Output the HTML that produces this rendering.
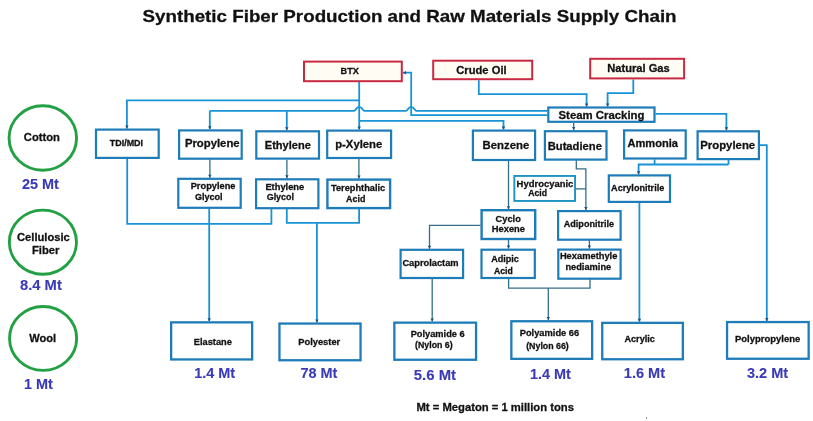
<!DOCTYPE html><html><head><meta charset="utf-8"><title>Synthetic Fiber Production and Raw Materials Supply Chain</title><style>html,body{margin:0;padding:0;background:#fff;}svg{display:block;}text{font-family:"Liberation Sans",Arial,sans-serif;font-weight:bold;}svg{will-change:transform;}</style></head><body>
<svg width="813" height="421" viewBox="0 0 813 421">
<rect width="813" height="421" fill="#fff"/>
<path d="M359.2,82 L359.2,129.5" fill="none" stroke="#1894d6" stroke-width="1.8"/>
<path d="M359.2,100.4 L126.9,100.4 L126.9,128.5" fill="none" stroke="#1894d6" stroke-width="1.8"/>
<path d="M403,72.7 L411.2,72.7 L411.2,115.2 L547.2,115.2" fill="none" stroke="#1894d6" stroke-width="1.8"/>
<path d="M359.2,120.8 L503.5,120.8 L503.5,129.5" fill="none" stroke="#1894d6" stroke-width="1.8"/>
<path d="M478.8,80.2 L478.8,94.2 L586.6,94.2 L586.6,106.4" fill="none" stroke="#1894d6" stroke-width="1.8"/>
<path d="M633.3,79.4 L633.3,93.2 L607.6,93.2 L607.6,106.4" fill="none" stroke="#1894d6" stroke-width="1.8"/>
<path d="M655.6,113.9 L726.4,113.9 L726.4,130.2" fill="none" stroke="#1894d6" stroke-width="1.8"/>
<path d="M759.9,145.2 L766.8,145.2 L766.8,320.9" fill="none" stroke="#1894d6" stroke-width="1.8"/>
<path d="M654.6,159.4 L654.6,164.5" fill="none" stroke="#1894d6" stroke-width="1.8"/>
<path d="M728.5,160 L728.5,164.5" fill="none" stroke="#1894d6" stroke-width="1.8"/>
<path d="M728.5,164.5 L638.6,164.5 L638.6,174.3" fill="none" stroke="#1894d6" stroke-width="1.8"/>
<path d="M639.4,203 L639.4,321.7" fill="none" stroke="#1894d6" stroke-width="1.8"/>
<path d="M127.2,158.5 L127.2,223.9 L271.4,223.9 L271.4,208.8" fill="none" stroke="#1894d6" stroke-width="1.8"/>
<path d="M209.2,208.4 L209.2,321.3" fill="none" stroke="#1894d6" stroke-width="1.8"/>
<path d="M286.8,208.8 L286.8,222.8 L359.1,222.8 L359.1,208.8" fill="none" stroke="#1894d6" stroke-width="1.8"/>
<path d="M316.9,222.8 L316.9,322.4" fill="none" stroke="#1894d6" stroke-width="1.8"/>
<path d="M209.9,159.2 L209.9,177.7" fill="none" stroke="#336f88" stroke-width="1.3"/>
<path d="M286.9,159.7 L286.9,178.2" fill="none" stroke="#336f88" stroke-width="1.3"/>
<path d="M358.9,158.9 L358.9,178.4" fill="none" stroke="#336f88" stroke-width="1.3"/>
<path d="M508.5,160.6 L508.5,209.3" fill="none" stroke="#336f88" stroke-width="1.3"/>
<path d="M573.7,122.9 L573.7,130.1" fill="none" stroke="#336f88" stroke-width="1.3"/>
<path d="M576.3,160.3 L576.3,168.8 L585.9,168.8 L585.9,210" fill="none" stroke="#336f88" stroke-width="1.3"/>
<path d="M576,188.9 L585.9,188.9" fill="none" stroke="#336f88" stroke-width="1.3"/>
<path d="M480.5,225.3 L429.5,225.3 L429.5,248.7" fill="none" stroke="#336f88" stroke-width="1.3"/>
<path d="M508.5,240 L508.5,248.6" fill="none" stroke="#336f88" stroke-width="1.3"/>
<path d="M589.4,240 L589.4,248.6" fill="none" stroke="#336f88" stroke-width="1.3"/>
<path d="M508.6,279.1 L508.6,288.1 L590,288.1 L590,279.1" fill="none" stroke="#336f88" stroke-width="1.3"/>
<path d="M548.3,288.1 L548.3,320.1" fill="none" stroke="#336f88" stroke-width="1.3"/>
<path d="M432.2,279.1 L432.2,321.5" fill="none" stroke="#336f88" stroke-width="1.3"/>
<path d="M209.8,110.8 L209.8,129.3" fill="none" stroke="#1894d6" stroke-width="1.8"/>
<path d="M286.8,110.8 L286.8,130.2" fill="none" stroke="#1894d6" stroke-width="1.8"/>
<path d="M209.8,110.8 L354.0,110.8 C356.0,110.8 355.8,106.89999999999999 359.2,106.89999999999999 C362.59999999999997,106.89999999999999 362.4,110.8 364.4,110.8 L406.0,110.8 C408.0,110.8 407.8,106.89999999999999 411.2,106.89999999999999 C414.59999999999997,106.89999999999999 414.4,110.8 416.4,110.8 L547.2,110.8" fill="none" stroke="#1894d6" stroke-width="1.8"/>
<rect x="304.00" y="61.60" width="97.80" height="19.60" fill="#fffcf4" stroke="#c82a42" stroke-width="2"/>
<rect x="433.20" y="60.70" width="99.00" height="18.50" fill="#fffcf4" stroke="#c82a42" stroke-width="2"/>
<rect x="590.20" y="58.80" width="93.90" height="19.60" fill="#fffcf4" stroke="#c82a42" stroke-width="2"/>
<rect x="548.30" y="107.50" width="106.20" height="14.30" fill="#fff" stroke="#1e7cb8" stroke-width="2.2"/>
<rect x="96.00" y="129.60" width="62.70" height="28.30" fill="#fff" stroke="#1e7cb8" stroke-width="2.2"/>
<rect x="179.10" y="130.40" width="62.60" height="28.30" fill="#fff" stroke="#1e7cb8" stroke-width="2.2"/>
<rect x="256.30" y="131.30" width="62.70" height="27.30" fill="#fff" stroke="#1e7cb8" stroke-width="2.2"/>
<rect x="327.20" y="130.60" width="63.90" height="27.40" fill="#fff" stroke="#1e7cb8" stroke-width="2.2"/>
<rect x="472.90" y="130.60" width="62.20" height="29.40" fill="#fff" stroke="#1e7cb8" stroke-width="2.2"/>
<rect x="544.90" y="131.20" width="61.60" height="28.40" fill="#fff" stroke="#1e7cb8" stroke-width="2.2"/>
<rect x="624.10" y="130.40" width="61.60" height="28.10" fill="#fff" stroke="#1e7cb8" stroke-width="2.2"/>
<rect x="697.60" y="131.30" width="61.30" height="27.80" fill="#fff" stroke="#1e7cb8" stroke-width="2.2"/>
<rect x="178.30" y="178.80" width="62.40" height="29.00" fill="#fff" stroke="#1e7cb8" stroke-width="2.2"/>
<rect x="256.10" y="179.30" width="62.30" height="28.90" fill="#fff" stroke="#1e7cb8" stroke-width="2.2"/>
<rect x="327.40" y="179.60" width="62.70" height="28.50" fill="#fff" stroke="#1e7cb8" stroke-width="2.4"/>
<rect x="514.35" y="175.95" width="60.70" height="25.00" fill="#fff" stroke="#1f94c2" stroke-width="1.9"/>
<rect x="608.80" y="175.40" width="61.20" height="26.50" fill="#fff" stroke="#1e7cb8" stroke-width="2.2"/>
<rect x="481.60" y="210.20" width="53.60" height="28.80" fill="#fff" stroke="#1e7cb8" stroke-width="2.4"/>
<rect x="558.10" y="211.10" width="62.50" height="28.60" fill="#fff" stroke="#1e7cb8" stroke-width="2.2"/>
<rect x="400.60" y="249.80" width="62.50" height="28.20" fill="#fff" stroke="#1e7cb8" stroke-width="2.2"/>
<rect x="481.50" y="249.70" width="53.30" height="28.30" fill="#fff" stroke="#1e7cb8" stroke-width="2.2"/>
<rect x="558.30" y="249.60" width="62.30" height="29.10" fill="#fff" stroke="#1e7cb8" stroke-width="2.2"/>
<rect x="171.15" y="322.35" width="81.00" height="37.10" fill="#fff" stroke="#1e7cb8" stroke-width="2.3"/>
<rect x="279.45" y="323.55" width="81.10" height="36.70" fill="#fff" stroke="#1e7cb8" stroke-width="2.3"/>
<rect x="394.35" y="322.65" width="81.70" height="37.10" fill="#fff" stroke="#1e7cb8" stroke-width="2.3"/>
<rect x="511.35" y="321.25" width="80.80" height="37.60" fill="#fff" stroke="#1e7cb8" stroke-width="2.3"/>
<rect x="602.25" y="322.85" width="80.60" height="36.40" fill="#fff" stroke="#1e7cb8" stroke-width="2.3"/>
<rect x="727.05" y="322.05" width="81.60" height="36.70" fill="#fff" stroke="#1e7cb8" stroke-width="2.3"/>
<path d="M125.2,125.5 L128.6,125.5 L126.9,128.5 Z" fill="#1d5282"/>
<path d="M208.10000000000002,126.30000000000001 L211.5,126.30000000000001 L209.8,129.3 Z" fill="#1d5282"/>
<path d="M285.1,127.19999999999999 L288.5,127.19999999999999 L286.8,130.2 Z" fill="#1d5282"/>
<path d="M357.5,126.5 L360.9,126.5 L359.2,129.5 Z" fill="#1d5282"/>
<path d="M501.8,126.5 L505.2,126.5 L503.5,129.5 Z" fill="#1d5282"/>
<path d="M584.9,103.4 L588.3000000000001,103.4 L586.6,106.4 Z" fill="#1d5282"/>
<path d="M605.9,103.4 L609.3000000000001,103.4 L607.6,106.4 Z" fill="#1d5282"/>
<path d="M724.6999999999999,127.19999999999999 L728.1,127.19999999999999 L726.4,130.2 Z" fill="#1d5282"/>
<path d="M572.0,127.1 L575.4000000000001,127.1 L573.7,130.1 Z" fill="#1d5282"/>
<path d="M406.0,71.0 L406.0,74.4 L403,72.7 Z" fill="#1d5282"/>
<path d="M208.20000000000002,174.7 L211.6,174.7 L209.9,177.7 Z" fill="#1d5282"/>
<path d="M285.2,175.2 L288.59999999999997,175.2 L286.9,178.2 Z" fill="#1d5282"/>
<path d="M357.2,175.4 L360.59999999999997,175.4 L358.9,178.4 Z" fill="#1d5282"/>
<path d="M636.9,171.3 L640.3000000000001,171.3 L638.6,174.3 Z" fill="#1d5282"/>
<path d="M506.8,206.3 L510.2,206.3 L508.5,209.3 Z" fill="#1d5282"/>
<path d="M584.1999999999999,207.0 L587.6,207.0 L585.9,210 Z" fill="#1d5282"/>
<path d="M427.8,245.7 L431.2,245.7 L429.5,248.7 Z" fill="#1d5282"/>
<path d="M506.8,245.6 L510.2,245.6 L508.5,248.6 Z" fill="#1d5282"/>
<path d="M587.6999999999999,245.6 L591.1,245.6 L589.4,248.6 Z" fill="#1d5282"/>
<path d="M207.5,318.3 L210.89999999999998,318.3 L209.2,321.3 Z" fill="#1d5282"/>
<path d="M315.2,319.4 L318.59999999999997,319.4 L316.9,322.4 Z" fill="#1d5282"/>
<path d="M430.5,318.5 L433.9,318.5 L432.2,321.5 Z" fill="#1d5282"/>
<path d="M546.5999999999999,317.1 L550.0,317.1 L548.3,320.1 Z" fill="#1d5282"/>
<path d="M637.6999999999999,318.7 L641.1,318.7 L639.4,321.7 Z" fill="#1d5282"/>
<path d="M765.0999999999999,317.9 L768.5,317.9 L766.8,320.9 Z" fill="#1d5282"/>
<ellipse cx="42.8" cy="138.0" rx="33.75" ry="32.25" fill="#fff" stroke="#22a044" stroke-width="2.9"/>
<ellipse cx="42.9" cy="242.2" rx="33.55" ry="32.05" fill="#fff" stroke="#22a044" stroke-width="2.9"/>
<ellipse cx="43.1" cy="338.4" rx="33.55" ry="31.95" fill="#fff" stroke="#22a044" stroke-width="2.9"/>
<text x="142.50" y="22.40" font-size="17.00" fill="#111" stroke="#111" stroke-width="0.28" textLength="534.10" lengthAdjust="spacingAndGlyphs">Synthetic Fiber Production and Raw Materials Supply Chain</text>
<text x="340.60" y="73.50" font-size="8.70" fill="#111" stroke="#111" stroke-width="0.28" textLength="18.30" lengthAdjust="spacingAndGlyphs">BTX</text>
<text x="456.30" y="73.80" font-size="10.76" fill="#111" stroke="#111" stroke-width="0.28" textLength="50.31" lengthAdjust="spacingAndGlyphs">Crude Oil</text>
<text x="607.30" y="71.80" font-size="10.73" fill="#111" stroke="#111" stroke-width="0.28" textLength="62.40" lengthAdjust="spacingAndGlyphs">Natural Gas</text>
<text x="558.50" y="118.50" font-size="10.58" fill="#111" stroke="#111" stroke-width="0.28" textLength="86.00" lengthAdjust="spacingAndGlyphs">Steam Cracking</text>
<text x="109.70" y="145.70" font-size="8.75" fill="#111" stroke="#111" stroke-width="0.28" textLength="33.40" lengthAdjust="spacingAndGlyphs">TDI/MDI</text>
<text x="184.90" y="147.20" font-size="10.54" fill="#111" stroke="#111" stroke-width="0.28" textLength="54.70" lengthAdjust="spacingAndGlyphs">Propylene</text>
<text x="264.80" y="149.00" font-size="10.84" fill="#111" stroke="#111" stroke-width="0.28" textLength="46.10" lengthAdjust="spacingAndGlyphs">Ethylene</text>
<text x="335.20" y="148.10" font-size="10.54" fill="#111" stroke="#111" stroke-width="0.28" textLength="47.10" lengthAdjust="spacingAndGlyphs">p-Xylene</text>
<text x="482.50" y="149.00" font-size="11.20" fill="#111" stroke="#111" stroke-width="0.28" textLength="46.70" lengthAdjust="spacingAndGlyphs">Benzene</text>
<text x="547.70" y="149.50" font-size="11.12" fill="#111" stroke="#111" stroke-width="0.28" textLength="54.20" lengthAdjust="spacingAndGlyphs">Butadiene</text>
<text x="627.50" y="146.80" font-size="10.57" fill="#111" stroke="#111" stroke-width="0.28" textLength="50.52" lengthAdjust="spacingAndGlyphs">Ammonia</text>
<text x="700.20" y="148.60" font-size="10.93" fill="#111" stroke="#111" stroke-width="0.28" textLength="55.00" lengthAdjust="spacingAndGlyphs">Propylene</text>
<text x="190.70" y="189.40" font-size="9.03" fill="#111" stroke="#111" stroke-width="0.28" textLength="44.80" lengthAdjust="spacingAndGlyphs">Propylene</text>
<text x="194.90" y="200.30" font-size="9.00" fill="#111" stroke="#111" stroke-width="0.28" textLength="27.70" lengthAdjust="spacingAndGlyphs">Glycol</text>
<text x="265.40" y="189.80" font-size="8.91" fill="#111" stroke="#111" stroke-width="0.28" textLength="38.80" lengthAdjust="spacingAndGlyphs">Ethylene</text>
<text x="266.70" y="200.30" font-size="8.93" fill="#111" stroke="#111" stroke-width="0.28" textLength="27.30" lengthAdjust="spacingAndGlyphs">Glycol</text>
<text x="331.00" y="190.70" font-size="9.08" fill="#111" stroke="#111" stroke-width="0.28" textLength="54.20" lengthAdjust="spacingAndGlyphs">Terephthalic</text>
<text x="346.10" y="201.80" font-size="8.76" fill="#111" stroke="#111" stroke-width="0.28" textLength="19.20" lengthAdjust="spacingAndGlyphs">Acid</text>
<text x="516.60" y="186.80" font-size="9.27" fill="#111" stroke="#111" stroke-width="0.28" textLength="56.80" lengthAdjust="spacingAndGlyphs">Hydrocyanic</text>
<text x="528.20" y="195.80" font-size="8.88" fill="#111" stroke="#111" stroke-width="0.28" textLength="18.80" lengthAdjust="spacingAndGlyphs">Acid</text>
<text x="611.10" y="190.60" font-size="9.17" fill="#111" stroke="#111" stroke-width="0.28" textLength="53.20" lengthAdjust="spacingAndGlyphs">Acrylonitrile</text>
<text x="495.60" y="222.20" font-size="9.45" fill="#111" stroke="#111" stroke-width="0.28" textLength="25.20" lengthAdjust="spacingAndGlyphs">Cyclo</text>
<text x="491.80" y="232.10" font-size="9.34" fill="#111" stroke="#111" stroke-width="0.28" textLength="33.20" lengthAdjust="spacingAndGlyphs">Hexene</text>
<text x="563.70" y="226.90" font-size="9.15" fill="#111" stroke="#111" stroke-width="0.28" textLength="50.50" lengthAdjust="spacingAndGlyphs">Adiponitrile</text>
<text x="402.40" y="265.90" font-size="8.97" fill="#111" stroke="#111" stroke-width="0.28" textLength="56.20" lengthAdjust="spacingAndGlyphs">Caprolactam</text>
<text x="491.20" y="262.10" font-size="8.93" fill="#111" stroke="#111" stroke-width="0.28" textLength="27.70" lengthAdjust="spacingAndGlyphs">Adipic</text>
<text x="494.00" y="273.50" font-size="8.95" fill="#111" stroke="#111" stroke-width="0.28" textLength="18.80" lengthAdjust="spacingAndGlyphs">Acid</text>
<text x="559.90" y="259.20" font-size="9.06" fill="#111" stroke="#111" stroke-width="0.28" textLength="57.50" lengthAdjust="spacingAndGlyphs">Hexamethyle</text>
<text x="565.40" y="269.80" font-size="8.82" fill="#111" stroke="#111" stroke-width="0.28" textLength="45.80" lengthAdjust="spacingAndGlyphs">nediamine</text>
<text x="193.80" y="344.50" font-size="9.17" fill="#111" stroke="#111" stroke-width="0.28" textLength="38.10" lengthAdjust="spacingAndGlyphs">Elastane</text>
<text x="298.30" y="345.00" font-size="9.33" fill="#111" stroke="#111" stroke-width="0.28" textLength="41.90" lengthAdjust="spacingAndGlyphs">Polyester</text>
<text x="410.70" y="337.00" font-size="9.24" fill="#111" stroke="#111" stroke-width="0.28" textLength="54.00" lengthAdjust="spacingAndGlyphs">Polyamide 6</text>
<text x="415.10" y="348.10" font-size="8.77" fill="#111" stroke="#111" stroke-width="0.28" textLength="37.50" lengthAdjust="spacingAndGlyphs">(Nylon 6)</text>
<text x="519.70" y="336.40" font-size="9.40" fill="#111" stroke="#111" stroke-width="0.28" textLength="59.50" lengthAdjust="spacingAndGlyphs">Polyamide 66</text>
<text x="526.20" y="349.40" font-size="8.81" fill="#111" stroke="#111" stroke-width="0.28" textLength="42.60" lengthAdjust="spacingAndGlyphs">(Nylon 66)</text>
<text x="624.40" y="342.20" font-size="9.04" fill="#111" stroke="#111" stroke-width="0.28" textLength="30.50" lengthAdjust="spacingAndGlyphs">Acrylic</text>
<text x="735.00" y="342.20" font-size="9.21" fill="#111" stroke="#111" stroke-width="0.28" textLength="65.30" lengthAdjust="spacingAndGlyphs">Polypropylene</text>
<text x="23.80" y="140.90" font-size="11.05" fill="#111" stroke="#111" stroke-width="0.28" textLength="36.10" lengthAdjust="spacingAndGlyphs">Cotton</text>
<text x="22.00" y="188.60" font-size="15.20" fill="#3a3ab6" stroke="#3a3ab6" stroke-width="0.1" textLength="36.90" lengthAdjust="spacingAndGlyphs">25 Mt</text>
<text x="17.00" y="241.10" font-size="10.48" fill="#111" stroke="#111" stroke-width="0.28" textLength="52.80" lengthAdjust="spacingAndGlyphs">Cellulosic</text>
<text x="31.90" y="253.60" font-size="10.65" fill="#111" stroke="#111" stroke-width="0.28" textLength="27.50" lengthAdjust="spacingAndGlyphs">Fiber</text>
<text x="20.00" y="289.70" font-size="15.20" fill="#3a3ab6" stroke="#3a3ab6" stroke-width="0.1" textLength="41.80" lengthAdjust="spacingAndGlyphs">8.4 Mt</text>
<text x="29.20" y="341.60" font-size="11.13" fill="#111" stroke="#111" stroke-width="0.28" textLength="26.90" lengthAdjust="spacingAndGlyphs">Wool</text>
<text x="24.00" y="388.50" font-size="15.20" fill="#3a3ab6" stroke="#3a3ab6" stroke-width="0.1" textLength="28.90" lengthAdjust="spacingAndGlyphs">1 Mt</text>
<text x="194.20" y="377.90" font-size="15.20" fill="#3a3ab6" stroke="#3a3ab6" stroke-width="0.1" textLength="41.00" lengthAdjust="spacingAndGlyphs">1.4 Mt</text>
<text x="300.50" y="378.30" font-size="15.20" fill="#3a3ab6" stroke="#3a3ab6" stroke-width="0.1" textLength="36.90" lengthAdjust="spacingAndGlyphs">78 Mt</text>
<text x="413.80" y="380.10" font-size="15.20" fill="#3a3ab6" stroke="#3a3ab6" stroke-width="0.1" textLength="42.20" lengthAdjust="spacingAndGlyphs">5.6 Mt</text>
<text x="529.90" y="378.60" font-size="15.20" fill="#3a3ab6" stroke="#3a3ab6" stroke-width="0.1" textLength="40.90" lengthAdjust="spacingAndGlyphs">1.4 Mt</text>
<text x="623.80" y="378.40" font-size="15.20" fill="#3a3ab6" stroke="#3a3ab6" stroke-width="0.1" textLength="41.20" lengthAdjust="spacingAndGlyphs">1.6 Mt</text>
<text x="746.90" y="378.40" font-size="15.20" fill="#3a3ab6" stroke="#3a3ab6" stroke-width="0.1" textLength="41.20" lengthAdjust="spacingAndGlyphs">3.2 Mt</text>
<text x="416.50" y="410.70" font-size="11.24" fill="#111" stroke="#111" stroke-width="0.28" textLength="157.40" lengthAdjust="spacingAndGlyphs">Mt = Megaton = 1 million tons</text>
<rect x="646" y="417" width="1" height="2" fill="#9a9a9a"/>
</svg></body></html>
